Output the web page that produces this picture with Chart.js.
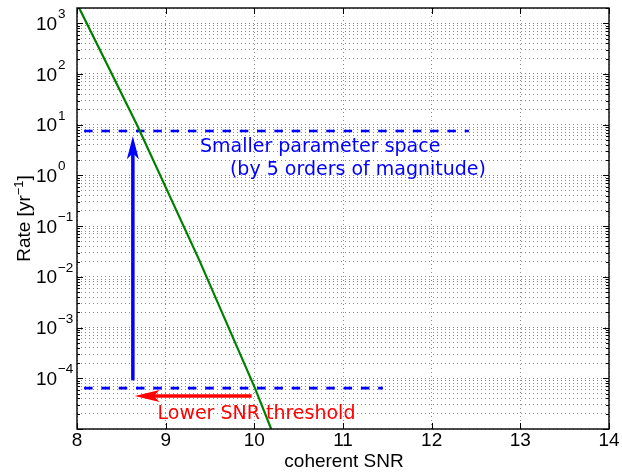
<!DOCTYPE html>
<html>
<head>
<meta charset="utf-8">
<script src="https://cdn.jsdelivr.net/npm/chart.js@4"></script>
<style>
  html, body { margin: 0; padding: 0; background: #fff; }
  canvas { display: block; }
</style>
</head>
<body>
<canvas id="c" width="622" height="472"></canvas>
<script>
// ---- data ----
const snrValues   = [8.02, 8.393, 8.673, 9.375, 10.007, 10.19];
const rateValues  = [2070, 100, 10.2, 0.0221, 6.4e-5, 1.0e-5];

const upperLevel  = 7.5;          // dashed line: smaller parameter space
const upperSpan   = [8.08, 12.42];
const lowerLevel  = 6.4e-5;       // dashed line: original threshold
const lowerSpan   = [8.08, 11.45];

const blueArrowX     = 8.63;
const blueArrowRates = [9.1e-5, 3.3];   // shaft start, shaft end (head drawn up to tip)
const blueArrowTip   = 5.9;
const redArrowRate   = 4.48e-5;
const redArrowSnr    = [9.97, 8.82];    // shaft start, shaft end
const redArrowTip    = 8.65;

const xTickLabels    = [8, 9, 10, 11, 12, 13, 14];
const yTickExponents = [3, 2, 1, 0, -1, -2, -3, -4];

const xTitle = 'coherent SNR';
const yTitleMain = 'Rate [yr';
const yTitleSup = '\u22121';
const yTitleEnd = ']';
const noteUpper1 = 'Smaller parameter space';
const noteUpper2 = '(by 5 orders of magnitude)';
const noteLower  = 'Lower SNR threshold';

// ---- build ----
const pts = (xs, ys) => xs.map((x, i) => ({ x, y: ys[i] }));
const LIB = '"Liberation Sans", Arial, sans-serif';
const DJV = '"DejaVu Sans", sans-serif';

const minorTicks = [];
for (let e = -5; e <= 3; e++) {
  for (let k = 1; k <= 9; k++) {
    const v = Number((k * Math.pow(10, e)).toPrecision(6));
    if (v >= 1e-5 && v <= 2000) minorTicks.push(v);
  }
}

function arrowHead(ctx, tipX, tipY, dirX, dirY, len, half, notch, color) {
  const px = -dirY, py = dirX;
  const bx = tipX + dirX * len, by = tipY + dirY * len;
  const nx = tipX + dirX * notch, ny = tipY + dirY * notch;
  ctx.beginPath();
  ctx.moveTo(tipX, tipY);
  ctx.lineTo(bx + px * half, by + py * half);
  ctx.lineTo(nx, ny);
  ctx.lineTo(bx - px * half, by - py * half);
  ctx.closePath();
  ctx.fillStyle = color;
  ctx.fill();
}

const decor = {
  id: 'decor',
  afterDraw(chart) {
    const ctx = chart.ctx;
    const a = chart.chartArea;
    const xs = chart.scales.x, ys = chart.scales.y;
    ctx.save();

    arrowHead(ctx, xs.getPixelForValue(blueArrowX), ys.getPixelForValue(blueArrowTip),
              0, 1, 23, 6, 17, '#0000ff');
    arrowHead(ctx, xs.getPixelForValue(redArrowTip), ys.getPixelForValue(redArrowRate),
              1, 0, 25, 6, 19, '#ff0000');

    ctx.strokeStyle = '#000';
    ctx.lineWidth = 1.4;
    ctx.strokeRect(a.left, a.top, a.right - a.left, a.bottom - a.top);

    ctx.lineWidth = 1;
    ctx.beginPath();
    xTickLabels.forEach(v => {
      const p = Math.round(xs.getPixelForValue(v)) + 0.5;
      ctx.moveTo(p, a.bottom); ctx.lineTo(p, a.bottom - 6);
      ctx.moveTo(p, a.top);    ctx.lineTo(p, a.top + 6);
    });
    minorTicks.forEach(v => {
      const p = Math.round(ys.getPixelForValue(v)) + 0.5;
      const major = Math.abs(Math.log10(v) - Math.round(Math.log10(v))) < 1e-9;
      const L = major ? 6 : 3;
      ctx.moveTo(a.left, p);  ctx.lineTo(a.left + L, p);
      ctx.moveTo(a.right, p); ctx.lineTo(a.right - L, p);
    });
    ctx.stroke();

    ctx.fillStyle = '#000';
    ctx.font = '19px ' + LIB;
    ctx.textAlign = 'center';
    ctx.textBaseline = 'alphabetic';
    xTickLabels.forEach(v => {
      ctx.fillText(String(v), xs.getPixelForValue(v), a.bottom + 16.5);
    });

    ctx.textAlign = 'left';
    yTickExponents.forEach(e => {
      const py = ys.getPixelForValue(Math.pow(10, e));
      const x0 = a.left - 41;
      ctx.font = '19px ' + LIB;
      ctx.fillText('10', x0, py + 6.6);
      const w = ctx.measureText('10').width;
      ctx.font = '13.5px ' + LIB;
      ctx.fillText(e < 0 ? '\u2212' + Math.abs(e) : String(e), x0 + w + 0.8, py - 5);
    });

    ctx.font = '19px ' + LIB;
    ctx.textAlign = 'center';
    ctx.fillText(xTitle, (a.left + a.right) / 2 + 1, a.bottom + 37.5);

    ctx.save();
    ctx.translate(a.left - 47.5, (a.top + a.bottom) / 2);
    ctx.rotate(-Math.PI / 2);
    ctx.textAlign = 'left';
    ctx.font = '19px ' + LIB;
    const w1 = ctx.measureText(yTitleMain).width;
    const w3 = ctx.measureText(yTitleEnd).width;
    ctx.font = '13px ' + LIB;
    const w2 = ctx.measureText(yTitleSup).width;
    let cx = -(w1 + w2 + w3) / 2;
    ctx.font = '19px ' + LIB;
    ctx.fillText(yTitleMain, cx, 0); cx += w1;
    ctx.font = '13px ' + LIB;
    ctx.fillText(yTitleSup, cx, -6.5); cx += w2;
    ctx.font = '19px ' + LIB;
    ctx.fillText(yTitleEnd, cx, 0);
    ctx.restore();

    ctx.textAlign = 'left';
    ctx.font = '19px ' + DJV;
    ctx.fillStyle = '#0000ff';
    ctx.fillText(noteUpper1, xs.getPixelForValue(9.387), ys.getPixelForValue(2.94));
    ctx.fillText(noteUpper2, xs.getPixelForValue(9.725), ys.getPixelForValue(1.03));
    ctx.fillStyle = '#ff0000';
    ctx.fillText(noteLower, xs.getPixelForValue(8.908), ys.getPixelForValue(1.55e-5));

    ctx.restore();
  }
};

new Chart(document.getElementById('c'), {
  type: 'line',
  data: {
    datasets: [
      { data: pts(snrValues, rateValues), borderColor: '#008000', borderWidth: 2.2,
        tension: 0, pointRadius: 0 },
      { data: pts(upperSpan, [upperLevel, upperLevel]), borderColor: '#0000ff', borderWidth: 2.6,
        borderDash: [8.5, 8.8], pointRadius: 0 },
      { data: pts(lowerSpan, [lowerLevel, lowerLevel]), borderColor: '#0000ff', borderWidth: 2.6,
        borderDash: [8.5, 8.8], pointRadius: 0 },
      { data: pts([blueArrowX, blueArrowX], blueArrowRates), borderColor: '#0000ff', borderWidth: 3.5,
        pointRadius: 0 },
      { data: pts(redArrowSnr, [redArrowRate, redArrowRate]), borderColor: '#ff0000', borderWidth: 3.5,
        pointRadius: 0 }
    ]
  },
  options: {
    responsive: false,
    animation: false,
    devicePixelRatio: 1,
    layout: { padding: { left: 77, right: 13, top: 8, bottom: 43 } },
    plugins: { legend: { display: false }, tooltip: { enabled: false } },
    scales: {
      x: {
        type: 'linear', min: 8, max: 14,
        ticks: { display: false, stepSize: 1, autoSkip: false },
        grid: { color: 'rgba(0,0,0,0.45)', drawTicks: false, lineWidth: 1 },
        border: { display: false, dash: [1, 3] }
      },
      y: {
        type: 'logarithmic', min: 1e-5, max: 2000,
        afterBuildTicks: s => { s.ticks = minorTicks.map(v => ({ value: v })); },
        ticks: { display: false, autoSkip: false },
        grid: { color: 'rgba(0,0,0,0.45)', drawTicks: false, lineWidth: 1 },
        border: { display: false, dash: [1, 3] }
      }
    }
  },
  plugins: [decor]
});
</script>
</body>
</html>
